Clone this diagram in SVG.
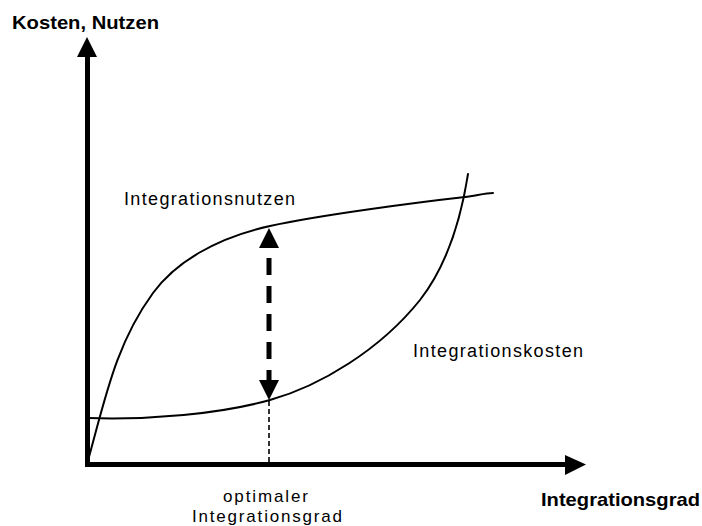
<svg xmlns="http://www.w3.org/2000/svg" width="702" height="526" viewBox="0 0 702 526">
  <style>
    .lbl { font-family: "Liberation Sans", Arial, sans-serif; font-size: 18px; fill: #000; }
    .bold { font-weight: bold; font-size: 19px; }
    .small { font-size: 17px; }
    .axis { stroke: #000; stroke-width: 5; fill: none; }
    .curve { stroke: #000; stroke-width: 2; fill: none; stroke-linecap: round; }
    .gap { stroke: #000; stroke-width: 5; fill: none; stroke-dasharray: 17 11; }
    .drop { stroke: #000; stroke-width: 1.6; fill: none; stroke-dasharray: 5 3; }
  </style>

  <rect width="702" height="526" fill="#fff"/>

  <!-- axes -->
  <g id="axes">
    <path class="axis" d="M87.5,467 V55"/>
    <polygon points="87,37 77,57 97,57" fill="#000"/>
    <path class="axis" d="M85,464.5 H567"/>
    <polygon points="586,464.5 565,455 565,475" fill="#000"/>
    <text class="lbl bold" x="12" y="29" textLength="147" lengthAdjust="spacingAndGlyphs">Kosten, Nutzen</text>
    <text class="lbl bold" x="541" y="506" textLength="159" lengthAdjust="spacingAndGlyphs">Integrationsgrad</text>
  </g>

  <!-- benefit curve -->
  <g id="nutzen">
    <path class="curve" d="M87,464 C105,400 115,345 153,293 C175,263 215,238 270,226 C320,215 420,202 465,197 C475,196 485,193 493,193"/>
    <text class="lbl" x="124" y="205" textLength="171" lengthAdjust="spacing">Integrationsnutzen</text>
  </g>

  <!-- cost curve -->
  <g id="kosten">
    <path class="curve" d="M88,418 C150,420 220,414 270,400 C320,386 380,350 420,300 C445,268 460,225 468,174"/>
    <text class="lbl" x="413" y="357" textLength="170" lengthAdjust="spacing">Integrationskosten</text>
  </g>

  <!-- optimum marker -->
  <g id="optimum">
    <path class="drop" d="M269,401 V462"/>
    <text class="lbl small" x="223" y="502" textLength="85" lengthAdjust="spacing">optimaler</text>
    <text class="lbl small" x="192" y="522" textLength="150" lengthAdjust="spacing">Integrationsgrad</text>
  </g>

  <!-- connectors -->
  <g id="connectors">
    <path class="gap" d="M269,258 V380"/>
    <polygon points="269,228 259,248 279,248" fill="#000"/>
    <polygon points="269,400 259,380 279,380" fill="#000"/>
  </g>
</svg>
